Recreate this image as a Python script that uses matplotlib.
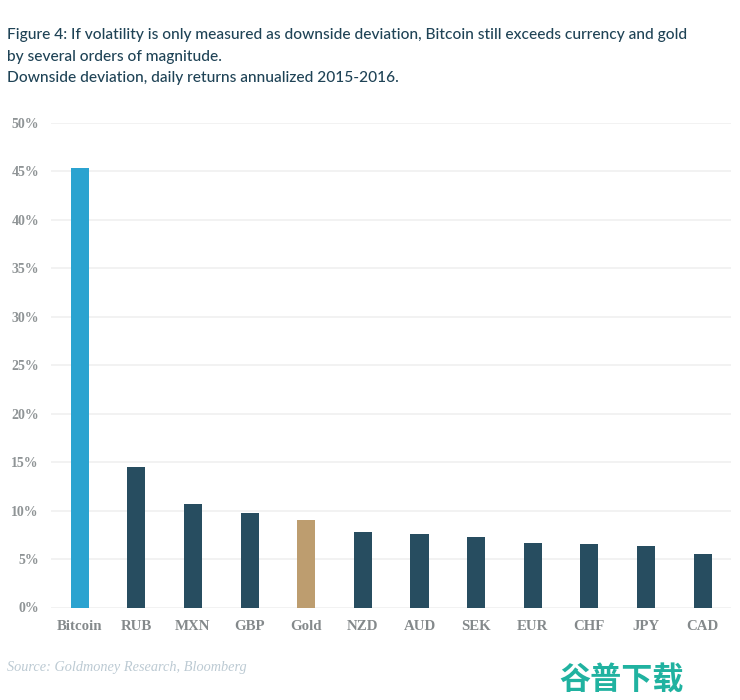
import matplotlib
matplotlib.use('Agg')
import matplotlib.pyplot as plt

categories = ['Bitcoin', 'RUB', 'MXN', 'GBP', 'Gold', 'NZD', 'AUD', 'SEK', 'EUR', 'CHF', 'JPY', 'CAD']
values = [45.4, 14.45, 10.7, 9.75, 9.05, 7.8, 7.55, 7.3, 6.7, 6.55, 6.3, 5.5]
bar_colors = ['#2ba3d0', '#274d60', '#274d60', '#274d60', '#bd9d6f', '#274d60', '#274d60',
              '#274d60', '#274d60', '#274d60', '#274d60', '#274d60']
y_ticks = [0, 5, 10, 15, 20, 25, 30, 35, 40, 45, 50]

W, H = 740, 700
fig = plt.figure(figsize=(W / 100, H / 100), dpi=100)
ax = fig.add_axes([51.4 / W, (H - 607.5) / H, 679.6 / W, 484.5 / H])

ax.bar(range(len(categories)), values, width=0.32, color=bar_colors, zorder=3)
ax.set_xlim(-0.5, len(categories) - 0.5)
ax.set_ylim(0, 50)

ax.set_yticks(y_ticks)
ax.set_yticklabels([f'{t}%' for t in y_ticks], family='Liberation Serif', fontsize=10, weight='bold', color='#8f9496')
ax.set_xticks(range(len(categories)))
ax.set_xticklabels(categories, family='Liberation Serif', fontsize=10.7, weight='bold', color='#84898b')
ax.tick_params(axis='both', length=0)
ax.tick_params(axis='x', pad=9)
ax.tick_params(axis='y', pad=9)
ax.grid(axis='y', color='#f0f0f0', linewidth=1.2, zorder=0)
for s in ax.spines.values():
    s.set_visible(False)

# title block
title_lines = ['Figure 4: If volatility is only measured as downside deviation, Bitcoin still exceeds currency and gold',
               'by several orders of magnitude.',
               'Downside deviation, daily returns annualized 2015-2016.']
for line, y in zip(title_lines, [35, 57, 78]):
    fig.text(7 / W, 1 - y / H, line, family='Lato', weight='medium', fontsize=11.17, color='#1f4356', va='center')

fig.text(7 / W, 1 - 668 / H, 'Source: Goldmoney Research, Bloomberg', family='Liberation Serif',
         style='italic', fontsize=10.25, color='#bccad3', va='center')

# watermark
fig.text(622 / W, 1 - 680 / H, '谷普下载', family=['Noto Sans CJK SC', 'DejaVu Sans'], weight='bold',
         fontsize=22.4, color='#20b2a0', ha='center', va='center')

fig.savefig('out.png', dpi=100)
